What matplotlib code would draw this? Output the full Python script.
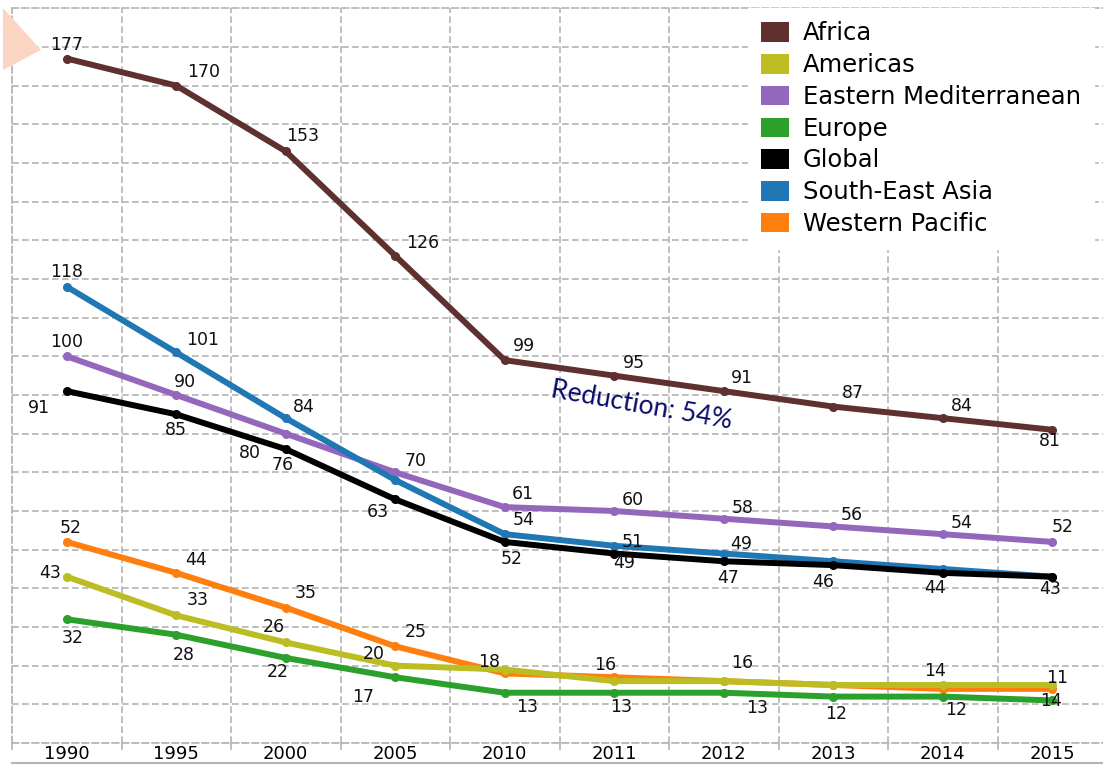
import matplotlib
matplotlib.use("Agg")
import matplotlib.pyplot as plt
from matplotlib.patches import Patch, Polygon
from matplotlib.lines import Line2D

# under-five mortality per 1000 live births, by WHO region
years = ["1990", "1995", "2000", "2005", "2010", "2011", "2012", "2013", "2014", "2015"]

africa = [177, 170, 153, 126, 99, 95, 91, 87, 84, 81]
americas = [43, 33, 26, 20, 19, 16, 16, 15, 15, 15]
east_med = [100, 90, 80, 70, 61, 60, 58, 56, 54, 52]
europe = [32, 28, 22, 17, 13, 13, 13, 12, 12, 11]
global_rate = [91, 85, 76, 63, 52, 49, 47, 46, 44, 43]
se_asia = [118, 101, 84, 68, 54, 51, 49, 47, 45, 43]
w_pacific = [52, 44, 35, 25, 18, 17, 16, 15, 14, 14]

region_names = ["Africa", "Americas", "Eastern Mediterranean", "Europe",
                "Global", "South-East Asia", "Western Pacific"]
colors = {
    "Africa": "#5e3130",
    "Americas": "#bcbd22",
    "Eastern Mediterranean": "#9467bd",
    "Europe": "#2ca02c",
    "Global": "#000000",
    "South-East Asia": "#1f77b4",
    "Western Pacific": "#ff7f0e",
}
series = {
    "Africa": africa,
    "Americas": americas,
    "Eastern Mediterranean": east_med,
    "Europe": europe,
    "Global": global_rate,
    "South-East Asia": se_asia,
    "Western Pacific": w_pacific,
}

# where each value label sits relative to its point (pixels), None = no label
label_offsets = {
    "Africa": [(0, 14), (27, 14), (17, 15), (27, 13), (19, 14), (20, 13),
               (18, 13), (20, 14), (19, 12), (-2, -11)],
    "Americas": [(-17, 4), (21, 15), (-12, 15), (-21, 12), None, (-9, 16),
                 None, None, None, None],
    "Eastern Mediterranean": [(0, 14), (9, 13), (-36, -19), (20, 11), (18, 13),
                              (19, 11), (19, 11), (19, 11), (19, 11), (10, 15)],
    "Europe": [(6, -19), (7, -20), (-8, -14), (-32, -20), (22, -14), (7, -14),
               (33, -15), (3, -17), (13, -13), (5, 22)],
    "Global": [(-28, -17), (0, -16), (-3, -16), (-17, -13), (7, -17), (10, -9),
               (4, -17), (-10, -17), (-8, -15), (-2, -12)],
    "South-East Asia": [(0, 15), (26, 12), (18, 11), None, (19, 14), (18, 4),
                        (17, 10), None, None, None],
    "Western Pacific": [(4, 14), (20, 13), (20, 15), (20, 14), (-16, 11), None,
                        (18, 18), None, (-8, 18), (-1, -12)],
}

draw_order = ["Africa", "Eastern Mediterranean", "South-East Asia", "Global",
              "Western Pacific", "Americas", "Europe"]

fig = plt.figure(figsize=(11.03, 7.65), dpi=100)
ax = fig.add_axes([12 / 1103, 22 / 765, 1095 / 1103, 734.7 / 765])

x = list(range(len(years)))
grid_col = "#b4b4b4"

for z, name in enumerate(draw_order):
    vals = series[name]
    ax.plot(x, vals, color=colors[name], lw=4.3, marker="o", ms=5.5,
            solid_capstyle="round", solid_joinstyle="round", zorder=3 + z)
    for xi, v, off in zip(x, vals, label_offsets[name]):
        if off is None:
            continue
        ax.annotate(f"{v:g}", (xi, v), xytext=off, textcoords="offset pixels",
                    ha="center", va="center", fontsize=12.5, color="#111111",
                    zorder=20)

ax.text(5.25, 87.2, "Reduction: 54%", rotation=-10, rotation_mode="anchor",
        ha="center", va="center", fontsize=19, family="Lato",
        color="#0a0a6a", zorder=21)

ax.set_xlim(-0.5, len(years) - 0.5)
ax.set_ylim(0, 190)
ax.set_xticks(x)
ax.set_xticklabels(years, fontsize=13)
ax.set_xticks([i - 0.5 for i in range(len(years) + 1)], minor=True)
ax.set_yticks(range(0, 190, 10))
ax.set_yticklabels([])
ax.tick_params(axis="x", which="major", length=0, pad=1.5)
ax.tick_params(axis="x", which="minor", length=5, width=1.2, color=grid_col)
ax.tick_params(axis="y", length=0)

ax.grid(True, axis="y", which="major", color=grid_col, lw=1.2, ls=(0, (4, 2)))
ax.grid(True, axis="x", which="minor", color=grid_col, lw=1.2, ls=(0, (4, 2)))
ax.set_axisbelow(True)
for side in ["left", "top", "bottom"]:
    ax.spines[side].set_color(grid_col)
    ax.spines[side].set_linestyle((0, (4, 2)))
    ax.spines[side].set_linewidth(1.2)
ax.spines["right"].set_visible(False)

# line closing the bottom of the year row
fig.add_artist(Line2D([12 / 1103, 1], [2 / 765, 2 / 765], transform=fig.transFigure,
                      color=grid_col, lw=1.5))

# small marker shape at the top-left corner
fig.add_artist(Polygon([(3 / 1103, 1 - 8 / 765), (41 / 1103, 1 - 50 / 765),
                        (3 / 1103, 1 - 70 / 765)], closed=True,
                       transform=fig.transFigure, facecolor="#fcd5c2",
                       edgecolor="none"))

handles = [Patch(facecolor=colors[n], edgecolor="none", label=n) for n in region_names]
leg = ax.legend(handles=handles, loc="upper right", bbox_to_anchor=(0.992, 1 - 8 / 765),
                bbox_transform=fig.transFigure, fontsize=17.5, frameon=True,
                fancybox=False, framealpha=1, edgecolor="white",
                handlelength=1.16, handleheight=0.86, handletextpad=0.55,
                labelspacing=0.32, borderpad=0.55, borderaxespad=0)
leg.set_zorder(30)

fig.savefig("out.png", dpi=100)
